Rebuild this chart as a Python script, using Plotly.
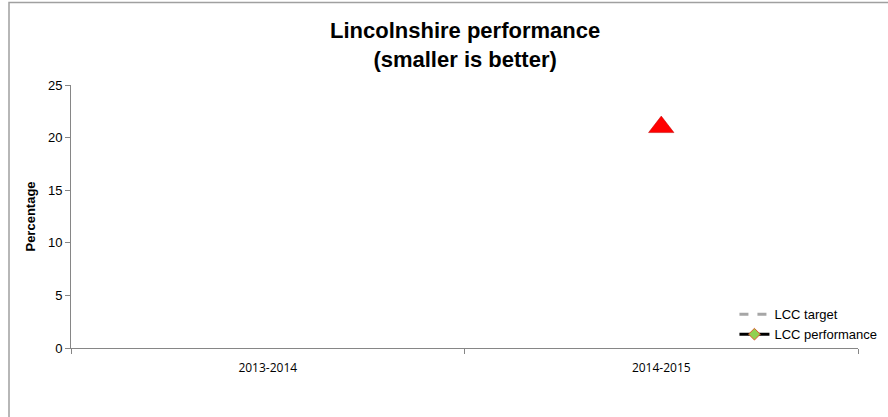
import plotly.graph_objects as go

categories = ["2013-2014", "2014-2015"]
lcc_target = [None, None]
lcc_performance = [None, None]
direction_marker = [None, 21]

fig = go.Figure()

fig.add_trace(go.Scatter(
    x=categories, y=lcc_target, name="LCC target", mode="lines",
    line=dict(color="#A6A6A6", width=3, dash="dash"),
))
fig.add_trace(go.Scatter(
    x=categories, y=lcc_performance, name="LCC performance", mode="lines+markers",
    line=dict(color="#000000", width=3),
    marker=dict(symbol="diamond", size=9, color="#92D050",
                line=dict(color="#E05A2B", width=1)),
))
fig.add_trace(go.Scatter(
    x=categories, y=direction_marker, name="Direction", mode="markers",
    showlegend=False,
    marker=dict(symbol="triangle-up", size=22, color="#FF0000",
                line=dict(color="#C00000", width=0.5)),
))

fig.update_layout(
    width=888, height=417,
    margin=dict(l=71, r=30, t=85, b=69, autoexpand=False),
    paper_bgcolor="white", plot_bgcolor="white",
    font=dict(family="Liberation Sans, Arial, sans-serif", size=13, color="black"),
    showlegend=True,
    legend=dict(
        x=0.843, xanchor="left", y=0.185, yanchor="top",
        bgcolor="rgba(0,0,0,0)", font=dict(size=13),
        tracegroupgap=0, itemwidth=30,
    ),
    xaxis=dict(
        type="category", categoryorder="array", categoryarray=categories,
        range=[-0.5, 1.5], automargin=False,
        showline=True, linecolor="#868686", linewidth=1,
        ticks="outside", tickson="boundaries", ticklen=5, tickcolor="#868686",
        showgrid=False, zeroline=False, ticklabelstandoff=9,
        tickfont=dict(family="Open Sans, Liberation Sans, sans-serif", size=12, color="black"),
    ),
    yaxis=dict(
        range=[0, 25], dtick=5, tick0=0, automargin=False,
        showline=True, linecolor="#868686", linewidth=1,
        ticks="outside", ticklen=5, tickcolor="#868686",
        showgrid=False, zeroline=False,
        tickfont=dict(size=13, color="black"),
        title=dict(text="<b>Percentage</b>", font=dict(size=13, color="black"), standoff=9),
    ),
    annotations=[dict(
        text="<b>Lincolnshire performance<br>(smaller is better)</b>",
        xref="paper", yref="paper", x=0.5, y=(348 - 45) / 263,
        xanchor="center", yanchor="middle", showarrow=False,
        font=dict(size=22, color="black"),
    )],
    shapes=[dict(
        type="rect", xref="paper", yref="paper",
        x0=(9 - 71) / 787, x1=1.5, y0=-1, y1=(348 - 2.5) / 263,
        line=dict(color="#A0A0A0", width=1.5), fillcolor="rgba(0,0,0,0)",
        layer="below",
    )],
)

fig.write_html(
    "out.html",
    config={"displayModeBar": False},
    post_script="document.body.style.margin='0';document.body.style.overflow='hidden';",
)
